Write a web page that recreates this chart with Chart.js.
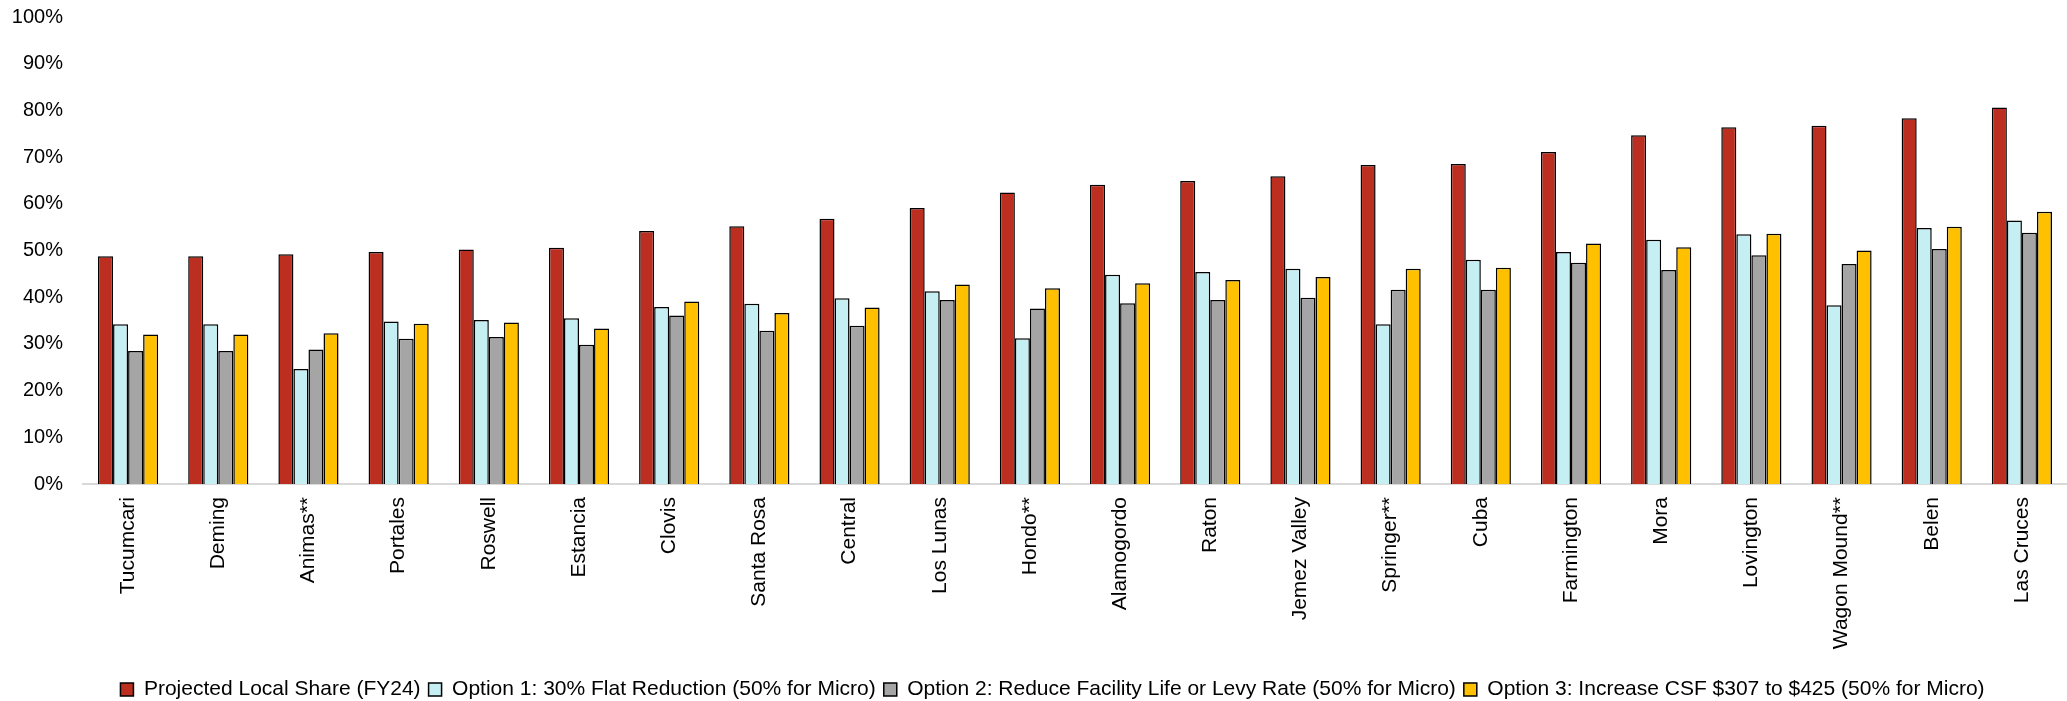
<!DOCTYPE html>
<html>
<head>
<meta charset="utf-8">
<title>Local Share by District</title>
<script src="https://cdn.jsdelivr.net/npm/chart.js@4/dist/chart.umd.min.js"></script>
<style>
  html, body { margin: 0; padding: 0; background: #ffffff; }
  #wrap { width: 2067px; height: 701px; }
</style>
</head>
<body>
<div id="wrap"><canvas id="chart" width="2067" height="701"></canvas></div>
<script>
// Districts, ordered by projected FY24 local share
const districts = [
  'Tucumcari', 'Deming', 'Animas**', 'Portales', 'Roswell', 'Estancia',
  'Clovis', 'Santa Rosa', 'Central', 'Los Lunas', 'Hondo**', 'Alamogordo',
  'Raton', 'Jemez Valley', 'Springer**', 'Cuba', 'Farmington', 'Mora',
  'Lovington', 'Wagon Mound**', 'Belen', 'Las Cruces'
];

// Local share (%) under each scenario
const projectedShare = [48.75, 48.75, 49.2, 49.7, 50.2, 50.6, 54.2, 55.2, 56.8, 59.1, 62.4,
  64.1, 64.9, 65.9, 68.3, 68.5, 71.1, 74.7, 76.4, 76.7, 78.3, 80.6];
const option1Share = [34.2, 34.2, 24.6, 34.8, 35.1, 35.5, 37.9, 38.6, 39.8, 41.3, 31.2,
  44.8, 45.4, 46.1, 34.2, 48.0, 49.7, 52.3, 53.5, 38.3, 54.8, 56.4];
const option2Share = [28.5, 28.5, 28.8, 31.1, 31.5, 29.8, 36.1, 32.8, 33.9, 39.4, 37.6,
  38.7, 39.4, 39.9, 41.6, 41.6, 47.4, 45.8, 49.0, 47.1, 50.3, 53.8];
const option3Share = [32.0, 32.0, 32.3, 34.3, 34.6, 33.3, 39.1, 36.6, 37.8, 42.7, 41.9,
  43.0, 43.7, 44.3, 46.1, 46.3, 51.5, 50.7, 53.6, 50.0, 55.1, 58.3];

const seriesNames = [
  'Projected Local Share (FY24)',
  'Option 1: 30% Flat Reduction (50% for Micro)',
  'Option 2: Reduce Facility Life or Levy Rate (50% for Micro)',
  'Option 3: Increase CSF $307 to $425 (50% for Micro)'
];
const seriesColors = ['#BC2E20', '#C6EFF3', '#A5A5A5', '#FFC000'];

// Percentage axis ticks
const yMin = 0;
const yMax = 100;
const yStep = 10;

const FONT = '"Liberation Sans", Arial, sans-serif';

const seriesValues = [projectedShare, option1Share, option2Share, option3Share];
const datasets = seriesValues.map((vals, i) => ({
  label: seriesNames[i],
  data: vals,
  backgroundColor: seriesColors[i],
  borderColor: '#000000',
  borderWidth: 1.5,
  categoryPercentage: 0.667,
  barPercentage: 1.0
}));

// Nudge the legend row slightly right of the canvas centre
const legendNudge = {
  id: 'legendNudge',
  afterLayout(chart) {
    const lg = chart.legend;
    if (lg) { lg.left += 19; lg.right += 19; }
  }
};

new Chart(document.getElementById('chart'), {
  type: 'bar',
  data: { labels: districts, datasets },
  plugins: [legendNudge],
  options: {
    responsive: false,
    animation: false,
    devicePixelRatio: 1,
    layout: { padding: { top: 17, right: 0, bottom: -9, left: 0 } },
    plugins: {
      tooltip: { enabled: false },
      legend: {
        position: 'bottom',
        labels: {
          color: '#000000',
          font: { family: FONT, size: 21 },
          boxWidth: 13,
          boxHeight: 13,
          padding: 8
        }
      }
    },
    scales: {
      x: {
        grid: { display: false, drawTicks: false },
        border: { display: true, color: '#D9D9D9', width: 2 },
        ticks: {
          color: '#000000',
          font: { family: FONT, size: 21 },
          minRotation: 90,
          maxRotation: 90,
          autoSkip: false,
          padding: 13
        },
        afterFit: (scale) => {
          scale.height = 187;
          scale.paddingLeft = 0;
          scale.paddingRight = 0;
        }
      },
      y: {
        min: yMin,
        max: yMax,
        grid: { display: false, drawTicks: false },
        border: { display: false },
        ticks: {
          stepSize: yStep,
          color: '#000000',
          font: { family: FONT, size: 20 },
          padding: 20,
          callback: (v) => v + '%'
        },
        afterFit: (scale) => {
          scale.width = 83;
          scale.paddingTop = 0;
          scale.paddingBottom = 0;
        }
      }
    }
  }
});
</script>
</body>
</html>
